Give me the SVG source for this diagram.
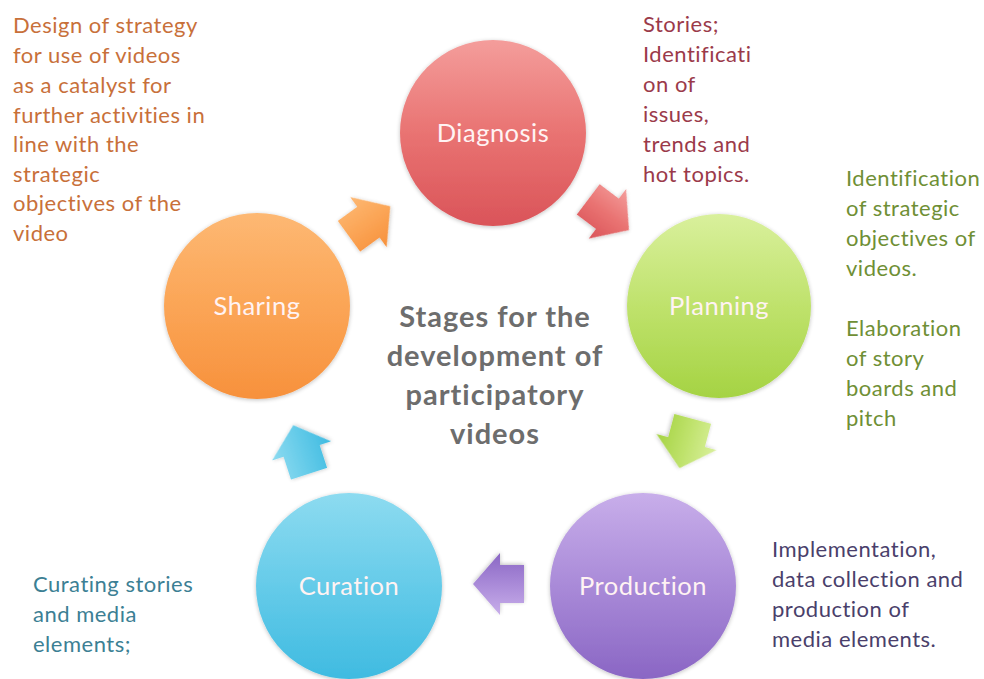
<svg xmlns="http://www.w3.org/2000/svg" width="984" height="679" viewBox="0 0 984 679">
<defs>
<linearGradient id="gRed" x1="0" y1="0" x2="0" y2="1"><stop offset="0" stop-color="#f49d9b"/><stop offset="0.5" stop-color="#e97372"/><stop offset="1" stop-color="#da5459"/></linearGradient>
<linearGradient id="gGreen" x1="0" y1="0" x2="0" y2="1"><stop offset="0" stop-color="#d9f09c"/><stop offset="0.5" stop-color="#bfe26c"/><stop offset="1" stop-color="#a5d343"/></linearGradient>
<linearGradient id="gPurple" x1="0" y1="0" x2="0" y2="1"><stop offset="0" stop-color="#c8aeea"/><stop offset="0.5" stop-color="#a98ad8"/><stop offset="1" stop-color="#8a66c4"/></linearGradient>
<linearGradient id="gCyan" x1="0" y1="0" x2="0" y2="1"><stop offset="0" stop-color="#8ddbf0"/><stop offset="0.5" stop-color="#65cbe9"/><stop offset="1" stop-color="#3fbbe1"/></linearGradient>
<linearGradient id="gOrange" x1="0" y1="0" x2="0" y2="1"><stop offset="0" stop-color="#fdb873"/><stop offset="0.5" stop-color="#fba556"/><stop offset="1" stop-color="#f7913c"/></linearGradient>
<filter id="sh" x="-20%" y="-20%" width="140%" height="140%"><feGaussianBlur in="SourceAlpha" stdDeviation="2"/><feOffset dy="1" result="b"/><feComponentTransfer><feFuncA type="linear" slope="0.25"/></feComponentTransfer><feMerge><feMergeNode/><feMergeNode in="SourceGraphic"/></feMerge></filter>
<path id="arr" d="M -26,-19 H -2 V -31 L 25,0 L -2,31 V 19 H -26 Z"/>
</defs>
<style>
.lbl{font-family:Lato,"Open Sans",sans-serif;font-size:25.5px;letter-spacing:0.5px;fill:#fff3f3;text-anchor:middle}
.note{font-family:Lato,"Open Sans",sans-serif;font-size:22px;letter-spacing:0.5px}
.title{font-family:Lato,"Open Sans",sans-serif;font-size:29px;letter-spacing:1px;font-weight:bold;fill:#6d6d6d;text-anchor:middle}
</style>
<rect width="984" height="679" fill="#ffffff"/>
<g id="connectors">
<use href="#arr" fill="url(#gOrange)" filter="url(#sh)" transform="translate(370,221) rotate(-36)"/>
<use href="#arr" fill="url(#gRed)" filter="url(#sh)" transform="translate(609,215) rotate(37)"/>
<use href="#arr" fill="url(#gGreen)" filter="url(#sh)" transform="translate(686,444) rotate(105)"/>
<use href="#arr" fill="url(#gPurple)" filter="url(#sh)" transform="translate(498,584) rotate(180)"/>
<use href="#arr" fill="url(#gCyan)" filter="url(#sh)" transform="translate(301,449) rotate(-108)"/>
</g>
<g id="diagnosis">
<circle cx="493" cy="133" r="93" fill="url(#gRed)" filter="url(#sh)"/>
<text class="lbl" x="493" y="142">Diagnosis</text>
</g>
<g id="planning">
<circle cx="719" cy="306" r="92" fill="url(#gGreen)" filter="url(#sh)"/>
<text class="lbl" x="719" y="315">Planning</text>
</g>
<g id="production">
<circle cx="643" cy="586" r="93" fill="url(#gPurple)" filter="url(#sh)"/>
<text class="lbl" x="643" y="595">Production</text>
</g>
<g id="curation">
<circle cx="349" cy="586" r="93" fill="url(#gCyan)" filter="url(#sh)"/>
<text class="lbl" x="349" y="595">Curation</text>
</g>
<g id="sharing">
<circle cx="257" cy="306" r="93" fill="url(#gOrange)" filter="url(#sh)"/>
<text class="lbl" x="257" y="315">Sharing</text>
</g>
<g id="title">
<text class="title" x="495" y="327">Stages for the</text>
<text class="title" x="495" y="366">development of</text>
<text class="title" x="495" y="405">participatory</text>
<text class="title" x="495" y="444">videos</text>
</g>
<g id="note-sharing" class="note" fill="#c8703a">
<text x="13" y="33">Design of strategy</text>
<text x="13" y="63">for use of videos</text>
<text x="13" y="93">as a catalyst for</text>
<text x="13" y="123">further activities in</text>
<text x="13" y="152">line with the</text>
<text x="13" y="182">strategic</text>
<text x="13" y="211">objectives of the</text>
<text x="13" y="241">video</text>
</g>
<g id="note-diagnosis" class="note" fill="#9b3a4a">
<text x="643" y="32">Stories;</text>
<text x="643" y="62">Identificati</text>
<text x="643" y="92">on of</text>
<text x="643" y="122">issues,</text>
<text x="643" y="152">trends and</text>
<text x="643" y="182">hot topics.</text>
</g>
<g id="note-planning" class="note" fill="#6f8f35">
<text x="846" y="186">Identification</text>
<text x="846" y="216">of strategic</text>
<text x="846" y="246">objectives of</text>
<text x="846" y="276">videos.</text>
<text x="846" y="336">Elaboration</text>
<text x="846" y="366">of story</text>
<text x="846" y="396">boards and</text>
<text x="846" y="426">pitch</text>
</g>
<g id="note-production" class="note" fill="#4a3f6b">
<text x="772" y="557">Implementation,</text>
<text x="772" y="587">data collection and</text>
<text x="772" y="617">production of</text>
<text x="772" y="647">media elements.</text>
</g>
<g id="note-curation" class="note" fill="#3c7f94">
<text x="33" y="592">Curating stories</text>
<text x="33" y="622">and media</text>
<text x="33" y="652">elements;</text>
</g>
</svg>
